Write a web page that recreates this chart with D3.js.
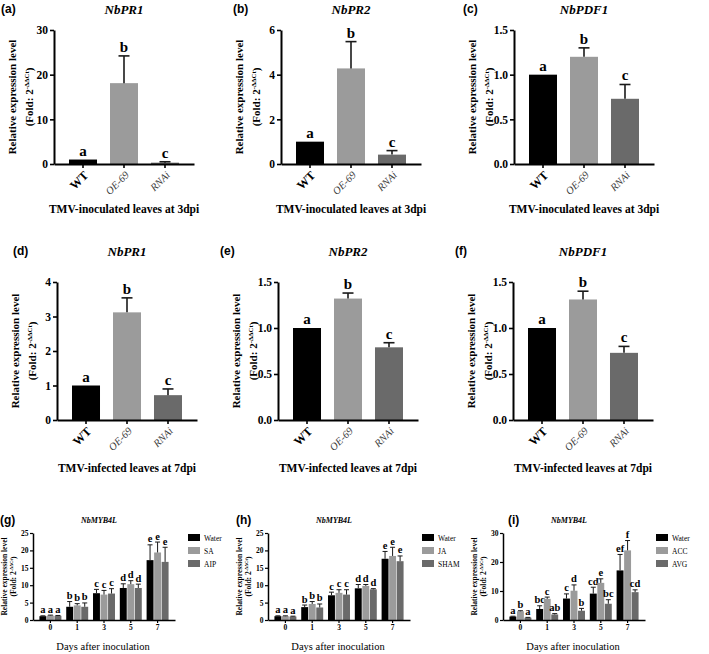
<!DOCTYPE html>
<html><head><meta charset="utf-8">
<script src="https://cdn.jsdelivr.net/npm/d3@7"></script>
<style>body{margin:0;background:#fff} svg{display:block}</style>
</head><body>
<svg id="c" width="709" height="654"></svg>
<script>
// ---------- DATA ----------
const genotypes = ["WT", "OE-69", "RNAi"];
const days = ["0", "1", "3", "5", "7"];

// 3 dpi, TMV-inoculated leaves
const pr1_3dpi = [1.0, 18.1, 0.3];
const pr1_3dpi_err = [0, 6.1, 0.2];
const pr2_3dpi = [1.0, 4.28, 0.42];
const pr2_3dpi_err = [0, 1.2, 0.18];
const pdf1_3dpi = [1.0, 1.20, 0.73];
const pdf1_3dpi_err = [0, 0.10, 0.16];

// 7 dpi, TMV-infected leaves
const pr1_7dpi = [1.0, 3.12, 0.72];
const pr1_7dpi_err = [0, 0.42, 0.18];
const pr2_7dpi = [1.0, 1.32, 0.79];
const pr2_7dpi_err = [0, 0.06, 0.05];
const pdf1_7dpi = [1.0, 1.31, 0.73];
const pdf1_7dpi_err = [0, 0.09, 0.07];

const lettersABC = ["a", "b", "c"];

// Time courses NbMYB4L
const g_series = ["Water", "SA", "AIP"];
const g_water = [1.1, 3.8, 7.7, 9.2, 17.2];
const g_water_err = [0.1, 1.5, 1.1, 1.2, 4.4];
const g_sa = [1.3, 4.2, 7.3, 10.3, 19.4];
const g_sa_err = [0.1, 0.5, 1.2, 1.0, 3.0];
const g_aip = [1.2, 3.8, 7.6, 9.2, 16.7];
const g_aip_err = [0.1, 1.1, 1.4, 1.1, 4.2];
const g_letters = [["a","a","a"],["b","b","b"],["c","c","c"],["d","d","d"],["e","e","e"]];

const h_series = ["Water", "JA", "SHAM"];
const h_water = [1.1, 3.7, 7.1, 9.1, 17.6];
const h_water_err = [0.1, 0.6, 0.9, 1.1, 2.1];
const h_ja = [1.1, 4.6, 7.8, 9.8, 18.4];
const h_ja_err = [0.1, 0.7, 0.9, 0.4, 2.5];
const h_sham = [1.0, 3.6, 7.3, 8.8, 16.9];
const h_sham_err = [0.1, 1.0, 1.4, 0.2, 1.5];
const h_letters = [["a","a","a"],["b","b","b"],["c","c","c"],["d","d","d"],["e","e","e"]];

const i_series = ["Water", "ACC", "AVG"];
const i_water = [1.2, 3.8, 7.4, 9.1, 17.1];
const i_water_err = [0.1, 1.1, 1.6, 2.2, 5.5];
const i_acc = [3.0, 7.3, 10.1, 12.8, 24.0];
const i_acc_err = [0.2, 0.6, 2.0, 1.4, 3.4];
const i_avg = [0.8, 1.9, 3.2, 5.6, 9.6];
const i_avg_err = [0.1, 0.3, 0.8, 1.4, 0.8];
const i_letters = [["a","b","a"],["bc","c","ab"],["c","d","b"],["cd","e","bc"],["ef","f","cd"]];

const ticks_pr1_3 = [0, 10, 20, 30];
const ticks_pr2_3 = [0, 2, 4, 6];
const ticks_15 = [0, 0.5, 1.0, 1.5];
const ticks_pr1_7 = [0, 1, 2, 3, 4];
const ticks_25 = [0, 5, 10, 15, 20, 25];
const ticks_30 = [0, 10, 20, 30];

const colors = ["#000000", "#9b9b9b", "#6a6a6a"];

// ---------- DRAW ----------
const svg = d3.select("#c");
const SERIF = "'Liberation Serif','Times New Roman',serif";
const SANS = "'Liberation Sans',Arial,sans-serif";

function yLabel(g, xBase1, xBase2, yc, fs) {
  g.append("text")
    .attr("transform", `translate(${xBase1},${yc}) rotate(-90)`)
    .attr("text-anchor", "middle").attr("font-family", SERIF)
    .attr("font-weight", "bold").attr("font-size", fs)
    .text("Relative expression level");
  const t = g.append("text")
    .attr("transform", `translate(${xBase2},${yc}) rotate(-90)`)
    .attr("text-anchor", "middle").attr("font-family", SERIF)
    .attr("font-weight", "bold").attr("font-size", fs);
  t.append("tspan").text("(Fold: 2");
  t.append("tspan").attr("dy", -fs * 0.4).attr("font-size", fs * 0.62).text("-\u0394\u0394Ct");
  t.append("tspan").attr("dy", fs * 0.4).text(")");
}

function drawSimple(p) {
  const g = svg.append("g");
  const y = d3.scaleLinear().domain([0, p.yMax]).range([p.yBot, p.yTop]);
  const x = d3.scaleBand().domain(genotypes).range([p.x0, p.x0 + 140])
    .paddingInner(0.317).paddingOuter(0.366);
  g.append("text").attr("x", p.labX).attr("y", p.labY).attr("font-family", SANS)
    .attr("font-weight", "bold").attr("font-size", 12).text(p.label);
  g.append("text").attr("x", p.x0 + 70).attr("y", p.titleY).attr("text-anchor", "middle")
    .attr("font-family", SERIF).attr("font-weight", "bold").attr("font-style", "italic")
    .attr("font-size", 13).text(p.title);
  g.selectAll("rect.bar").data(p.values).enter().append("rect")
    .attr("x", (d, i) => x(genotypes[i])).attr("width", x.bandwidth())
    .attr("y", d => y(d)).attr("height", d => p.yBot - y(d))
    .attr("fill", (d, i) => colors[i]);
  p.values.forEach((v, i) => {
    const e = p.errs[i];
    const cx = x(genotypes[i]) + x.bandwidth() / 2;
    if (e > 0) {
      g.append("line").attr("x1", cx).attr("x2", cx).attr("y1", y(v)).attr("y2", y(v + e))
        .attr("stroke", "#1a1a1a").attr("stroke-width", 1.6);
      g.append("line").attr("x1", cx - 5.5).attr("x2", cx + 5.5).attr("y1", y(v + e)).attr("y2", y(v + e))
        .attr("stroke", "#1a1a1a").attr("stroke-width", 1.6);
    }
    g.append("text").attr("x", cx).attr("y", y(v + e) - 4).attr("text-anchor", "middle")
      .attr("font-family", SERIF).attr("font-weight", "bold").attr("font-size", 15)
      .text(p.letters[i]);
    g.append("text").attr("transform", `translate(${cx + 3},${p.yBot + 9}) rotate(-45)`)
      .attr("text-anchor", "end").attr("dy", "0.35em")
      .attr("font-family", SERIF).attr("font-size", i === 0 ? 12 : 10.5)
      .attr("font-weight", i === 0 ? "bold" : "normal")
      .attr("font-style", i === 0 ? "normal" : "italic")
      .attr("fill", i === 0 ? "#000" : "#3a3a3a")
      .text(genotypes[i]);
  });
  const ya = g.append("g").attr("transform", `translate(${p.x0},0)`)
    .call(d3.axisLeft(y).tickValues(p.ticks).tickFormat(p.fmt).tickSize(4).tickSizeOuter(0).tickPadding(2));
  const xa = g.append("g").attr("transform", `translate(0,${p.yBot})`)
    .call(d3.axisBottom(x).tickSize(4).tickSizeOuter(0).tickFormat(""));
  [ya, xa].forEach(a => {
    a.select(".domain").attr("stroke", "#000").attr("stroke-width", 2);
    a.selectAll(".tick line").attr("stroke", "#000").attr("stroke-width", 1.6);
  });
  ya.selectAll(".tick text").attr("font-family", SERIF).attr("font-weight", "bold")
    .attr("font-size", 11.5).attr("fill", "#000");
  yLabel(g, p.x0 - 38, p.x0 - 21, (p.yTop + p.yBot) / 2, 11);
  g.append("text").attr("x", p.x0 + 70).attr("y", p.bottomY).attr("text-anchor", "middle")
    .attr("font-family", SERIF).attr("font-weight", "bold").attr("font-size", 11.5)
    .text(p.bottom);
}

function drawGrouped(p) {
  const g = svg.append("g");
  const y = d3.scaleLinear().domain([0, p.yMax]).range([p.yBot, p.yTop]);
  const x = d3.scaleBand().domain(days).range([p.x0, p.x0 + 142])
    .paddingInner(0.18).paddingOuter(0.24);
  const xs = d3.scaleBand().domain([0, 1, 2]).range([0, x.bandwidth()]).paddingInner(0.08);
  g.append("text").attr("x", p.labX).attr("y", p.labY).attr("font-family", SANS)
    .attr("font-weight", "bold").attr("font-size", 12).text(p.label);
  g.append("text").attr("x", p.x0 + 66).attr("y", p.titleY).attr("text-anchor", "middle")
    .attr("font-family", SERIF).attr("font-weight", "bold").attr("font-style", "italic")
    .attr("font-size", 8).text("NbMYB4L");
  p.series.forEach((vals, s) => {
    vals.forEach((v, i) => {
      const bx = x(days[i]) + xs(s);
      const cx = bx + xs.bandwidth() / 2;
      const e = p.errs[s][i];
      g.append("rect").attr("x", bx).attr("width", xs.bandwidth())
        .attr("y", y(v)).attr("height", p.yBot - y(v)).attr("fill", colors[s]);
      g.append("line").attr("x1", cx).attr("x2", cx).attr("y1", y(v)).attr("y2", y(v + e))
        .attr("stroke", "#1a1a1a").attr("stroke-width", 1);
      g.append("line").attr("x1", cx - 2.5).attr("x2", cx + 2.5).attr("y1", y(v + e)).attr("y2", y(v + e))
        .attr("stroke", "#1a1a1a").attr("stroke-width", 1);
      g.append("text").attr("x", cx).attr("y", y(v + e) - 2.5).attr("text-anchor", "middle")
        .attr("font-family", SERIF).attr("font-weight", "bold").attr("font-size", 10.5)
        .text(p.letters[i][s]);
    });
  });
  const ya = g.append("g").attr("transform", `translate(${p.x0},0)`)
    .call(d3.axisLeft(y).tickValues(p.ticks).tickSize(3).tickSizeOuter(0).tickPadding(1.5));
  const xa = g.append("g").attr("transform", `translate(0,${p.yBot})`)
    .call(d3.axisBottom(x).tickSize(3).tickSizeOuter(0).tickPadding(2));
  [ya, xa].forEach(a => {
    a.select(".domain").attr("stroke", "#000").attr("stroke-width", 1.5);
    a.selectAll(".tick line").attr("stroke", "#000").attr("stroke-width", 1.2);
    a.selectAll(".tick text").attr("font-family", SERIF).attr("font-weight", "bold")
      .attr("font-size", 7.5).attr("fill", "#000");
  });
  yLabel(g, p.x0 - 26, p.x0 - 17, (p.yTop + p.yBot) / 2, 7.5);
  g.append("text").attr("x", p.x0 + 70).attr("y", p.bottomY).attr("text-anchor", "middle")
    .attr("font-family", SERIF).attr("font-size", 10.5).text("Days after inoculation");
  p.names.forEach((n, s) => {
    g.append("rect").attr("x", p.legX).attr("y", p.legY + s * 13).attr("width", 12).attr("height", 7)
      .attr("fill", colors[s]);
    g.append("text").attr("x", p.legX + 16).attr("y", p.legY + s * 13 + 6.5)
      .attr("font-family", SERIF).attr("font-size", 7.5).text(n);
  });
}

const f1 = d => d3.format("d")(d);
const f15 = d => d3.format(".1f")(d);
const top3 = "TMV-inoculated leaves at 3dpi";
const top7 = "TMV-infected leaves at 7dpi";

drawSimple({label:"(a)", labX:1, labY:13, title:"NbPR1", titleY:14, x0:54, yTop:30, yBot:164, yMax:30,
  ticks:ticks_pr1_3, fmt:f1, values:pr1_3dpi, errs:pr1_3dpi_err, letters:lettersABC, bottom:top3, bottomY:213});
drawSimple({label:"(b)", labX:233, labY:13, title:"NbPR2", titleY:14, x0:281, yTop:30, yBot:164, yMax:6,
  ticks:ticks_pr2_3, fmt:f1, values:pr2_3dpi, errs:pr2_3dpi_err, letters:lettersABC, bottom:top3, bottomY:213});
drawSimple({label:"(c)", labX:463, labY:13, title:"NbPDF1", titleY:14, x0:514, yTop:30, yBot:164, yMax:1.5,
  ticks:ticks_15, fmt:f15, values:pdf1_3dpi, errs:pdf1_3dpi_err, letters:lettersABC, bottom:top3, bottomY:213});

drawSimple({label:"(d)", labX:13, labY:255, title:"NbPR1", titleY:256, x0:57, yTop:282, yBot:420, yMax:4,
  ticks:ticks_pr1_7, fmt:f1, values:pr1_7dpi, errs:pr1_7dpi_err, letters:lettersABC, bottom:top7, bottomY:472});
drawSimple({label:"(e)", labX:220, labY:255, title:"NbPR2", titleY:256, x0:278, yTop:282, yBot:420, yMax:1.5,
  ticks:ticks_15, fmt:f15, values:pr2_7dpi, errs:pr2_7dpi_err, letters:lettersABC, bottom:top7, bottomY:472});
drawSimple({label:"(f)", labX:455, labY:255, title:"NbPDF1", titleY:256, x0:513, yTop:282, yBot:420, yMax:1.5,
  ticks:ticks_15, fmt:f15, values:pdf1_7dpi, errs:pdf1_7dpi_err, letters:lettersABC, bottom:top7, bottomY:472});

drawGrouped({label:"(g)", labX:0, labY:524, titleY:523, x0:33, yTop:533, yBot:620, yMax:25, ticks:ticks_25,
  series:[g_water, g_sa, g_aip], errs:[g_water_err, g_sa_err, g_aip_err], letters:g_letters,
  names:g_series, legX:188, legY:534, bottomY:650});
drawGrouped({label:"(h)", labX:236, labY:524, titleY:523, x0:268, yTop:533, yBot:620, yMax:25, ticks:ticks_25,
  series:[h_water, h_ja, h_sham], errs:[h_water_err, h_ja_err, h_sham_err], letters:h_letters,
  names:h_series, legX:422, legY:534, bottomY:650});
drawGrouped({label:"(i)", labX:508, labY:524, titleY:523, x0:503, yTop:533, yBot:620, yMax:30, ticks:ticks_30,
  series:[i_water, i_acc, i_avg], errs:[i_water_err, i_acc_err, i_avg_err], letters:i_letters,
  names:i_series, legX:656, legY:534, bottomY:650});
</script>
</body></html>
